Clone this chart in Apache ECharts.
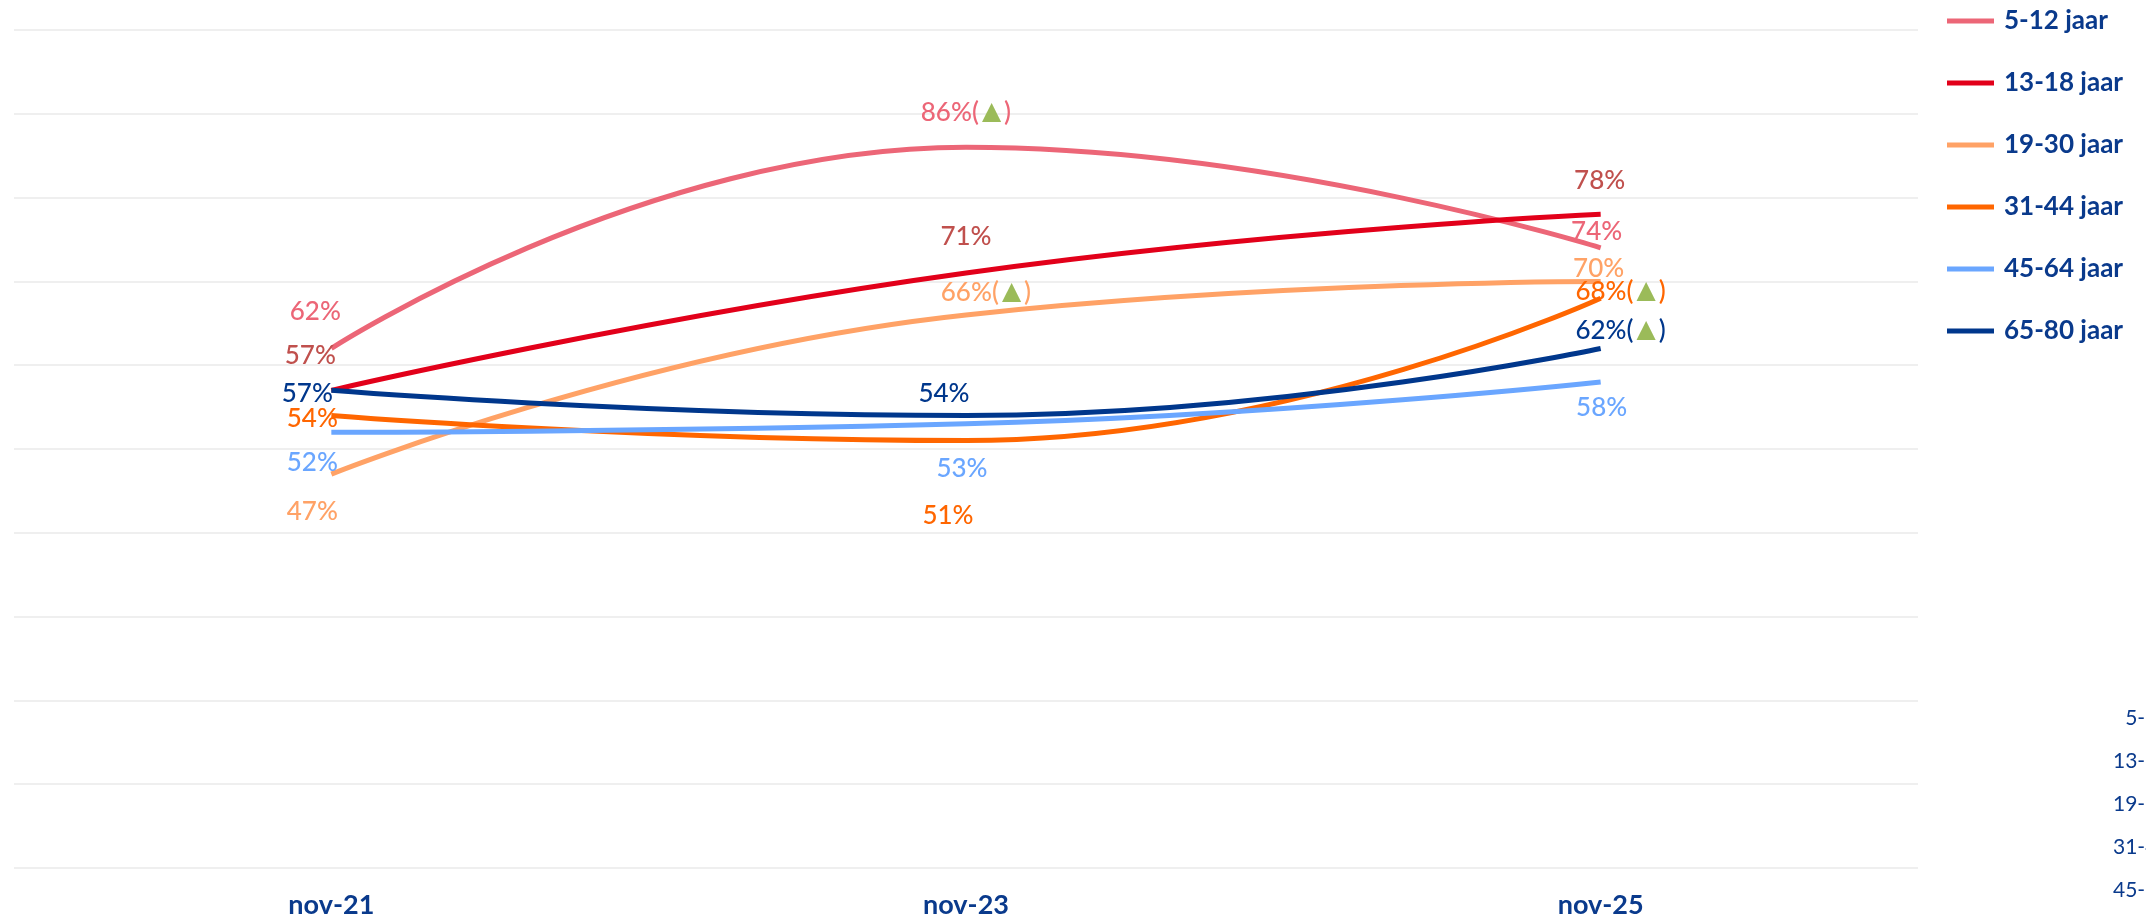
<!DOCTYPE html>
<html><head><meta charset="utf-8">
<script src="https://cdn.jsdelivr.net/npm/echarts@6/dist/echarts.min.js"></script>
<style>html,body{margin:0;padding:0;background:#fff}#c{width:2146px;height:920px}</style>
</head><body><div id="c"></div>
<script>
// ---- data ----
const categories = ['nov-21', 'nov-23', 'nov-25'];
const seriesNames = ['5-12 jaar', '13-18 jaar', '19-30 jaar', '31-44 jaar', '45-64 jaar', '65-80 jaar'];
const v_5_12  = [62, 86, 74];
const v_13_18 = [57, 71, 78];
const v_19_30 = [47, 66, 70];
const v_31_44 = [54, 51, 68];
const v_45_64 = [52, 53, 58];
const v_65_80 = [57, 54, 62];
// significant increase markers (▲)
const up_5_12  = [false, true, false];
const up_13_18 = [false, false, false];
const up_19_30 = [false, true, false];
const up_31_44 = [false, false, true];
const up_45_64 = [false, false, false];
const up_65_80 = [false, false, true];

// ---- styling / layout ----
const lineColors  = ['#EC6677', '#E2001A', '#FFA266', '#FF6600', '#6AA6FF', '#00378C'];
const labelColors = ['#EC6677', '#C0504D', '#FFA266', '#FF6600', '#6AA6FF', '#00378C'];
const labelOffsets = [
  [[-16, -37], [0, -35], [-4, -16]],
  [[-21, -35], [0, -36], [-1, -34]],
  [[-19, 38], [20, -22], [-2, -13]],
  [[-19, 3], [-18, 75], [20, -7]],
  [[-19, 30], [-4, 45], [1, 26]],
  [[-24, 3], [-22, -22], [20, -18]]
];
const FONT = 'Lato, "Noto Sans", sans-serif';
const NAVY = '#0A3A8C';

const values = [v_5_12, v_13_18, v_19_30, v_31_44, v_45_64, v_65_80];
const ups = [up_5_12, up_13_18, up_19_30, up_31_44, up_45_64, up_65_80];

const series = seriesNames.map((name, s) => ({
  type: 'line',
  name: name,
  smooth: true,
  symbol: 'circle',
  symbolSize: 0.1,
  itemStyle: { color: lineColors[s] },
  lineStyle: { width: 5, color: lineColors[s] },
  data: values[s].map((v, i) => ({
    value: v,
    label: { position: labelOffsets[s][i], align: 'center', verticalAlign: 'middle' }
  })),
  label: {
    show: true,
    color: labelColors[s],
    fontSize: 26,
    fontWeight: 500,
    fontFamily: FONT,
    align: 'center',
    verticalAlign: 'middle',
    formatter: p => ups[s][p.dataIndex] ? p.value + '%({g|▲})' : p.value + '%',
    rich: { g: { color: '#9BBB59', fontSize: 25, padding: [0, 3, 0, 3], fontFamily: '"DejaVu Sans", sans-serif' } }
  },
  labelLayout: { hideOverlap: false },
  emphasis: { disabled: true }
}));

const chart = echarts.init(document.getElementById('c'), null, { renderer: 'canvas' });
chart.setOption({
  animation: false,
  backgroundColor: '#ffffff',
  grid: { left: 14, right: 228, top: 30, bottom: 52, containLabel: false },
  legend: [
    {
      orient: 'vertical', left: 1942, top: 1,
      icon: 'rect', itemWidth: 47, itemHeight: 5, itemGap: 32,
      textStyle: { fontSize: 26, fontWeight: 'bold', color: NAVY, fontFamily: FONT, lineHeight: 30, padding: [0, 0, 0, 5] },
      data: seriesNames
    },
    {
      orient: 'vertical', left: 2108, top: 703, align: 'right',
      icon: 'rect', itemWidth: 30, itemHeight: 5, itemGap: 22,
      textStyle: { fontSize: 21, color: NAVY, fontFamily: FONT, lineHeight: 20 },
      data: seriesNames
    }
  ],
  xAxis: {
    type: 'category',
    data: categories,
    boundaryGap: true,
    axisLine: { show: false },
    axisTick: { show: false },
    axisLabel: { color: NAVY, fontSize: 27, fontWeight: 'bold', fontFamily: FONT, margin: 24 }
  },
  yAxis: {
    type: 'value', min: 0, max: 100, interval: 10,
    axisLabel: { show: false },
    axisLine: { show: false },
    axisTick: { show: false },
    splitLine: { lineStyle: { color: '#EFEFEF', width: 2 } }
  },
  series: series
});
</script>
</body></html>
